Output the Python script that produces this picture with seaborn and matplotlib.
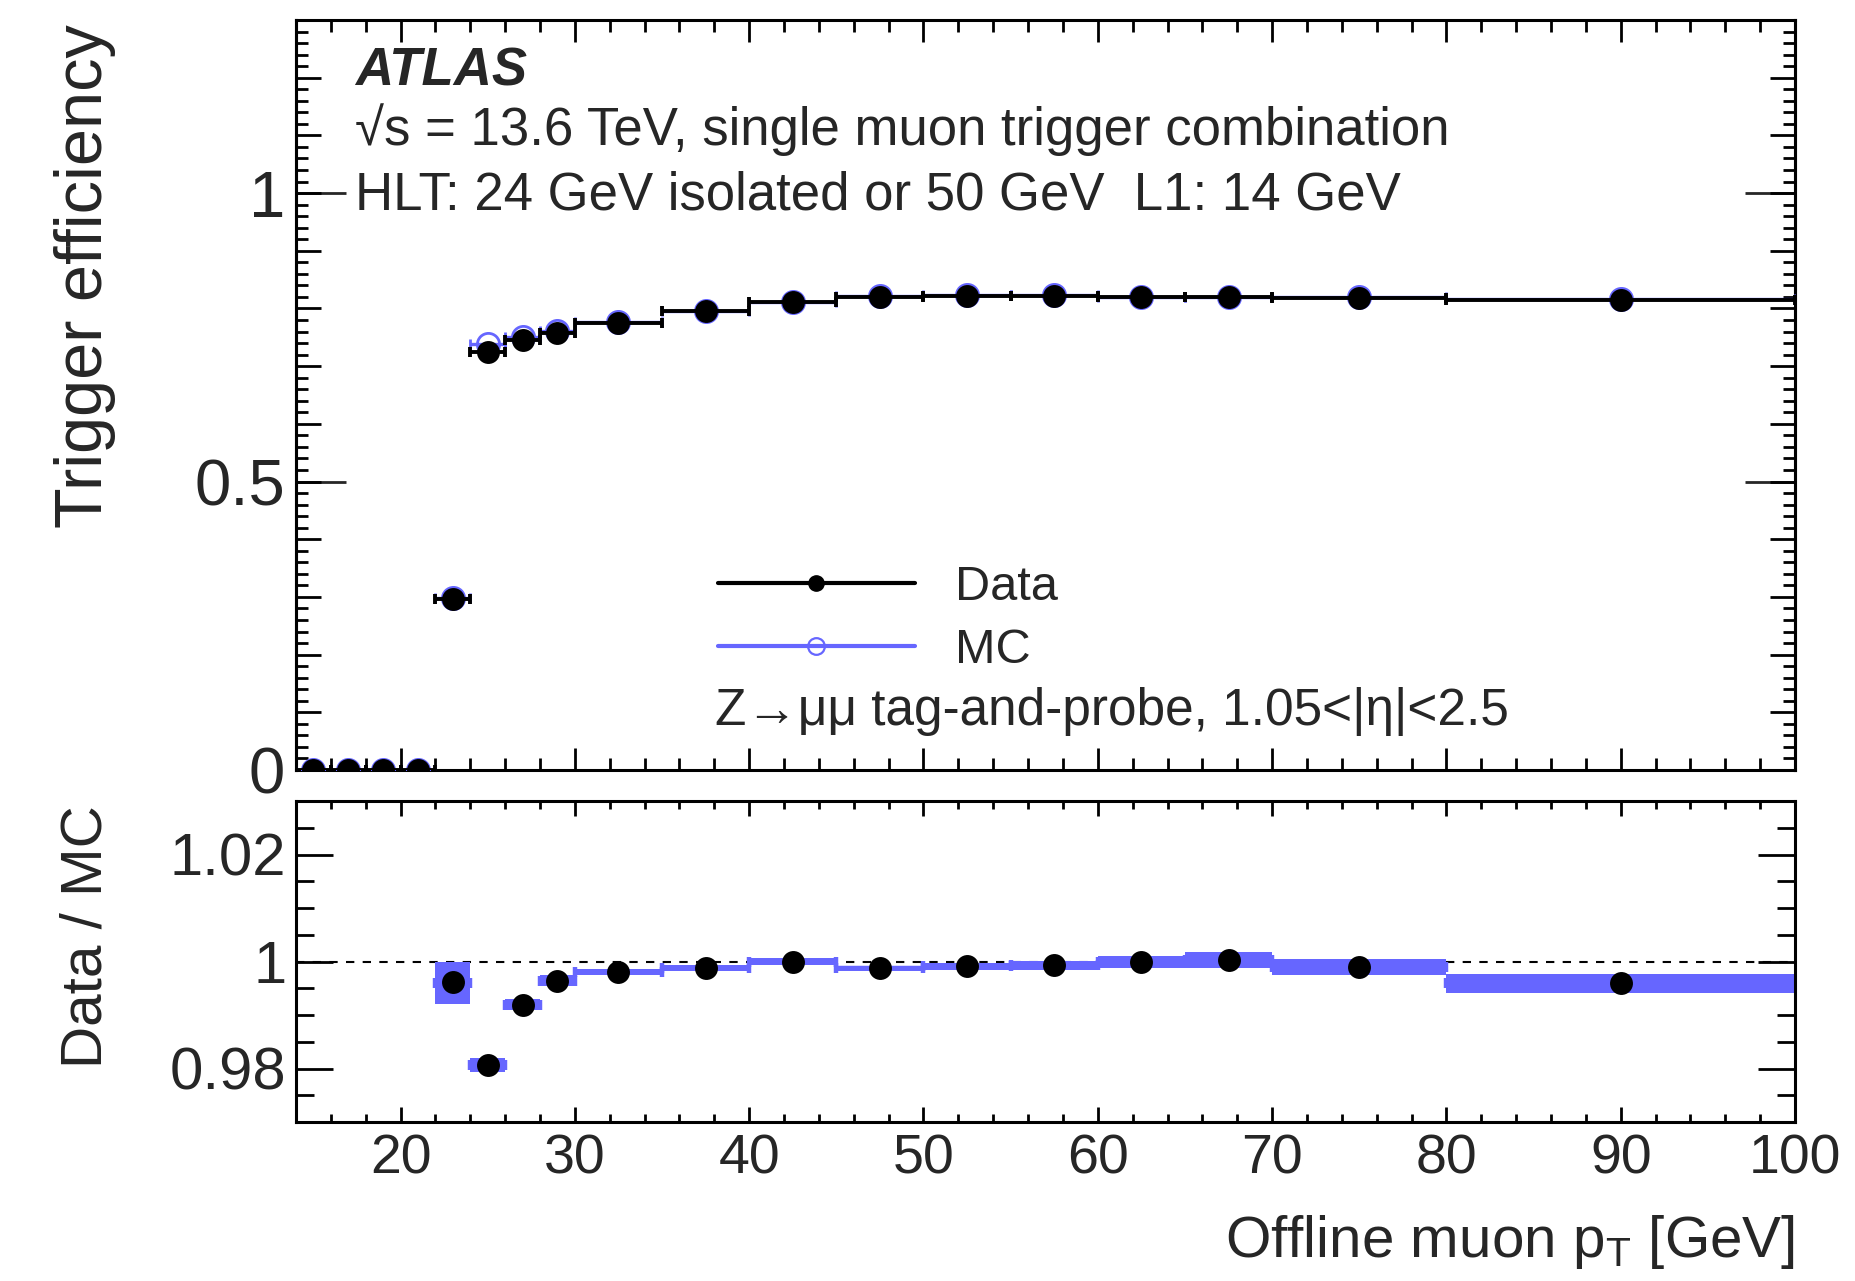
import numpy as np
import matplotlib
matplotlib.use("Agg")
import matplotlib.pyplot as plt
from matplotlib.lines import Line2D
from matplotlib.ticker import MultipleLocator, FixedLocator, NullLocator
import seaborn as sns

# ---------------- data ----------------
bin_edges = [14, 16, 18, 20, 22, 24, 26, 28, 30, 35, 40, 45, 50, 55, 60, 65, 70, 80, 100]
data_eff = [0.0, 0.0, 0.0, 0.0, 0.297, 0.724, 0.745, 0.758, 0.774, 0.795, 0.812,
            0.820, 0.822, 0.822, 0.820, 0.820, 0.819, 0.814]
mc_eff = [0.0, 0.0, 0.0, 0.0, 0.298, 0.738, 0.751, 0.761, 0.776, 0.796, 0.812,
          0.821, 0.823, 0.823, 0.820, 0.820, 0.820, 0.817]
ratio = [np.nan, np.nan, np.nan, np.nan, 0.9960, 0.9806, 0.9919, 0.9964, 0.9980,
         0.9988, 1.0000, 0.9987, 0.9991, 0.9993, 0.9999, 1.0002, 0.9989, 0.9959]
ratio_err = [np.nan, np.nan, np.nan, np.nan, 0.0039, 0.0013, 0.0010, 0.0010, 0.0006,
             0.0005, 0.0006, 0.0005, 0.0007, 0.0008, 0.0012, 0.0015, 0.0015, 0.0018]
ratio_marker = [np.nan, np.nan, np.nan, np.nan, 0.9962, 0.9806, 0.9919, 0.9964, 0.9980,
                0.9988, 1.0000, 0.9987, 0.9991, 0.9993, 0.9999, 1.0003, 0.9990, 0.9960]

x_ticks = [20, 30, 40, 50, 60, 70, 80, 90, 100]
eff_ticks = [0, 0.5, 1]
eff_tick_labels = ["0", "0.5", "1"]
ratio_ticks = [0.98, 1.0, 1.02]
ratio_tick_labels = ["0.98", "1", "1.02"]

header_lines = ["ATLAS",
                "\u221as = 13.6 TeV, single muon trigger combination",
                "HLT: 24 GeV isolated or 50 GeV  L1: 14 GeV"]
selection_text = "Z\u2192\u03bc\u03bc tag-and-probe, 1.05<|\u03b7|<2.5"
legend_labels = ["Data", "MC"]

# ---------------- style ----------------
sns.set_theme(style="ticks")
plt.rcParams["font.family"] = ["Liberation Sans", "DejaVu Sans"]
plt.rcParams["mathtext.default"] = "regular"
plt.rcParams["axes.linewidth"] = 2.2

BLUE = "#6666ff"
edges = np.array(bin_edges, dtype=float)
centers = 0.5 * (edges[1:] + edges[:-1])
halfw = 0.5 * (edges[1:] - edges[:-1])
widths = edges[1:] - edges[:-1]
data_eff = np.array(data_eff)
mc_eff = np.array(mc_eff)
ratio = np.array(ratio)
ratio_err = np.array(ratio_err)
ratio_marker = np.array(ratio_marker)

W, H = 1856, 1281
fig = plt.figure(figsize=(W / 100, H / 100), dpi=100)
L, R = 296 / W, 1795 / W
ax = fig.add_axes([L, 1 - 770 / H, R - L, (770 - 20) / H])
rax = fig.add_axes([L, 1 - 1122 / H, R - L, (1122 - 801) / H], sharex=ax)

# ---------------- top panel ----------------
ax.errorbar(centers, mc_eff, xerr=halfw, fmt="o", color=BLUE, ms=16, mfc="none",
            mec=BLUE, mew=2.0, elinewidth=2.4, capsize=3.5, capthick=2.4, zorder=3)
ax.errorbar(centers, data_eff, xerr=halfw, fmt="none", ecolor="black",
            elinewidth=2.8, capsize=3.5, capthick=2.8, zorder=4)
sns.scatterplot(x=centers, y=data_eff, ax=ax, s=16.5 ** 2, color="black",
                edgecolor="black", linewidth=0, zorder=5, legend=False)

ax.set_xlim(14, 100)
ax.set_ylim(0, 1.3)
ax.xaxis.set_major_locator(FixedLocator(x_ticks))
ax.xaxis.set_minor_locator(MultipleLocator(2))
ax.yaxis.set_major_locator(MultipleLocator(0.1))
ax.yaxis.set_minor_locator(MultipleLocator(0.02))
ax.tick_params(axis="both", which="both", direction="in", top=True, right=True,
               labelbottom=False, labelleft=False, color="black")
ax.tick_params(axis="x", which="major", length=15.8, width=2)
ax.tick_params(axis="x", which="minor", length=8.6, width=2)
ax.tick_params(axis="y", which="major", length=18, width=2)
ax.tick_params(axis="y", which="minor", length=8.6, width=2)
for s in ax.spines.values():
    s.set_linewidth(2.2)
    s.set_color("black")

for side in ("left", "right"):
    sec = ax.secondary_yaxis(side)
    sec.yaxis.set_major_locator(FixedLocator(eff_ticks))
    sec.yaxis.set_minor_locator(NullLocator())
    if side == "left":
        sec.set_yticklabels(eff_tick_labels)
        sec.tick_params(direction="in", length=36, width=2, labelsize=47, pad=8)
    else:
        sec.tick_params(direction="in", length=36, width=2, labelright=False)
    sec.spines[side].set_linewidth(2.2)

# legend
handles = [Line2D([], [], color="black", lw=3, marker="o", ms=11),
           Line2D([], [], color=BLUE, lw=3, marker="o", ms=12, mfc="none", mec=BLUE, mew=1.6)]
ax.legend(handles, legend_labels, loc="center left",
          bbox_to_anchor=(718 / W, 1 - 619 / H), bbox_transform=fig.transFigure,
          frameon=False, fontsize=35, handlelength=4.05, handletextpad=0.82,
          borderpad=0, borderaxespad=0, labelspacing=0.36)

# ---------------- ratio panel ----------------
rax.axhline(1.0, color="black", lw=1.5, ls=(0, (4, 4)), zorder=1)
rax.bar(centers, 2 * ratio_err, bottom=ratio - ratio_err, width=widths,
        color=BLUE, edgecolor=BLUE, linewidth=0, zorder=2)
rax.errorbar(centers, ratio, xerr=halfw, fmt="none", ecolor=BLUE,
             elinewidth=3.2, capsize=3.5, capthick=3.2, zorder=2)
sns.scatterplot(x=centers, y=ratio_marker, ax=rax, s=16.5 ** 2, color="black",
                edgecolor="black", linewidth=0, zorder=5, legend=False)

rax.set_ylim(0.97, 1.03)
rax.yaxis.set_major_locator(FixedLocator(ratio_ticks))
rax.set_yticklabels(ratio_tick_labels)
rax.yaxis.set_minor_locator(MultipleLocator(0.005))
rax.set_xticks(x_ticks)
rax.set_xticklabels([str(t) for t in x_ticks])
rax.xaxis.set_minor_locator(MultipleLocator(2))
rax.tick_params(axis="both", which="both", direction="in", top=True, right=True, color="black")
rax.tick_params(axis="y", which="major", length=26.6, width=2, labelsize=43, pad=7)
rax.tick_params(axis="y", which="minor", length=13, width=2)
rax.tick_params(axis="x", which="major", length=11, width=2, labelsize=40, pad=8)
rax.tick_params(axis="x", which="minor", length=5.5, width=2)
for s in rax.spines.values():
    s.set_linewidth(2.2)
    s.set_color("black")
rax.set_xlim(14, 100)
ax.set_xlabel("")
ax.set_ylabel("")
rax.set_xlabel("")
rax.set_ylabel("")

# ---------------- text ----------------
fig.text(355 / W, 1 - 86 / H, header_lines[0], fontsize=38, fontweight="bold",
         fontstyle="italic", va="baseline", ha="left")
fig.text(355 / W, 1 - 145 / H, header_lines[1], fontsize=38, va="baseline", ha="left")
fig.text(355 / W, 1 - 209 / H, header_lines[2], fontsize=38, va="baseline", ha="left")
fig.text(715 / W, 1 - 725 / H, selection_text, fontsize=37, va="baseline", ha="left")

fig.text(102 / W, 1 - 24 / H, "Trigger efficiency", fontsize=48, rotation=90,
         rotation_mode="anchor", ha="right", va="baseline")
fig.text(102 / W, 1 - 805 / H, "Data / MC", fontsize=42, rotation=90,
         rotation_mode="anchor", ha="right", va="baseline")
fig.text(R, 1 - 1257 / H, r"Offline muon p$_{T}$ [GeV]", fontsize=42,
         ha="right", va="baseline")

fig.savefig("out.png", dpi=100, facecolor="white")
